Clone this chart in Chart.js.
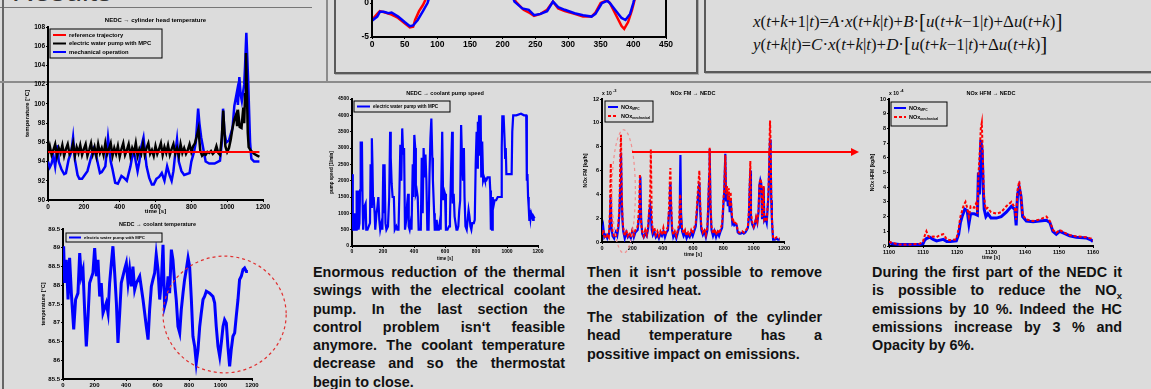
<!DOCTYPE html>
<html>
<head>
<meta charset="utf-8">
<script src="https://cdn.jsdelivr.net/npm/chart.js@4.4.1/dist/chart.umd.min.js"></script>
<style>
html, body { margin: 0; padding: 0; }
body { width: 1151px; height: 389px; overflow: hidden; background: #dcdcdc; position: relative;
       font-family: "Liberation Sans", Arial, sans-serif; }
canvas { position: absolute; }
.ln { position: absolute; background: #8c8c8c; }
.panel { position: absolute; border: 2px solid #5a5a5a; box-shadow: 1px 1px 0 #aaa; }
.txt { position: absolute; font-weight: bold; font-size: 14.4px; line-height: 18.3px; color: #111; }
.txt div { text-align: justify; text-align-last: justify; white-space: nowrap; }
.txt div.last { text-align-last: left; }
.eq { position: absolute; font-family: "Liberation Serif", "Times New Roman", serif; font-size: 16.9px; color: #111; white-space: nowrap; }
.eq .br { font-size: 21px; position: relative; top: 1px; }
</style>
</head>
<body>

<!-- рамки постера -->
<div style="position:absolute;left:12px;top:-24px;font-size:30px;line-height:30px;color:#333;">Results</div>
<div class="ln" style="left:0;top:7px;width:312px;height:1px;background:#777;"></div>
<div class="ln" style="left:2px;top:0;width:2px;height:389px;background:#666;"></div>
<div class="ln" style="left:326px;top:0;width:2px;height:82px;"></div>
<div class="ln" style="left:0;top:81px;width:1151px;height:2px;"></div>
<div class="panel" style="left:334px;top:-10px;width:360px;height:80px;"></div>
<div class="panel" style="left:704px;top:-10px;width:460px;height:79px;"></div>

<!-- уравнения -->
<div class="eq" style="left:768px;top:-12px;font-size:8px;">min</div>
<div class="eq" style="left:868px;top:-12px;font-size:8px;">max</div>
<div class="eq" style="left:948px;top:-12px;font-size:8px;">ctr</div>
<div class="eq" style="left:753px;top:8px;">
<i>x</i>(<i>t</i>+<i>k</i>+1|<i>t</i>)=<i>A</i>·<i>x</i>(<i>t</i>+<i>k</i>|<i>t</i>)+<i>B</i>·<span class="br">[</span><i>u</i>(<i>t</i>+<i>k</i>−1|<i>t</i>)+Δ<i>u</i>(<i>t</i>+<i>k</i>)<span class="br">]</span>
</div>
<div class="eq" style="left:753px;top:31px;">
<i>y</i>(<i>t</i>+<i>k</i>|<i>t</i>)=<i>C</i>·<i>x</i>(<i>t</i>+<i>k</i>|<i>t</i>)+<i>D</i>·<span class="br">[</span><i>u</i>(<i>t</i>+<i>k</i>−1|<i>t</i>)+Δ<i>u</i>(<i>t</i>+<i>k</i>)<span class="br">]</span>
</div>

<canvas id="c0"></canvas>
<canvas id="c1"></canvas>
<canvas id="c2"></canvas>
<canvas id="c3"></canvas>
<canvas id="c4"></canvas>
<canvas id="c5"></canvas>

<!-- стрелка от NOx FM к графику справа -->
<div style="position:absolute;left:632px;top:151px;width:220px;height:1.5px;background:#f00;"></div>
<div style="position:absolute;left:851px;top:148px;width:0;height:0;border-top:4px solid transparent;border-bottom:4px solid transparent;border-left:8px solid #f00;"></div>

<!-- тексты -->
<div class="txt" style="left:313px;top:263px;width:252px;">
  <div>Enormous reduction of the thermal</div>
  <div>swings with the electrical coolant</div>
  <div>pump. In the last section the</div>
  <div>control problem isn‘t feasible</div>
  <div>anymore. The coolant temperature</div>
  <div>decrease and so the thermostat</div>
  <div class="last">begin to close.</div>
</div>
<div class="txt" style="left:587px;top:263px;width:235px;">
  <div>Then it isn‘t possible to remove</div>
  <div class="last">the desired heat.</div>
</div>
<div class="txt" style="left:587px;top:308px;width:235px;">
  <div>The stabilization of the cylinder</div>
  <div>head temperature has a</div>
  <div class="last">possitive impact on emissions.</div>
</div>
<div class="txt" style="left:872px;top:263px;width:250px;">
  <div>During the first part of the NEDC it</div>
  <div>is possible to reduce the NO<sub style="font-size:9.5px;line-height:0;">x</sub></div>
  <div>emissions by 10 %. Indeed the HC</div>
  <div>emissions increase by 3 % and</div>
  <div class="last">Opacity by 6%.</div>
</div>

<script>
// ---- данные ----
// верхний график (виден только низ)
const topBlueX = [0, 8, 12, 18, 25, 30, 40, 50, 58, 63, 70, 78, 85, 95, 110, 200, 212, 218, 230, 240, 248, 258, 268, 277, 285, 295, 310, 323, 336, 342, 352, 360, 364, 372, 382, 388, 395, 400, 405, 410];
const topBlue  = [-2.6, -2.0, -1.3, -1.3, -1.5, -1.4, -2.0, -2.8, -3.4, -3.3, -2.5, -1.2, 0, 3, 6, 6, 2, 0.2, -0.8, -1.0, -1.8, -1.6, -1.2, 0.2, -0.6, -1.0, -1.5, -1.8, -2.0, -1.6, 0, 0.3, 0, -1.0, -2.2, -2.5, -1.6, 0, 2, 4];
const topRedX  = [0, 8, 12, 20, 30, 40, 50, 58, 63, 66, 72, 78, 82, 95, 110, 200, 212, 220, 232, 242, 248, 258, 268, 277, 285, 295, 310, 323, 336, 342, 350, 360, 364, 372, 382, 386, 392, 398, 402, 410];
const topRed   = [-2.5, -1.6, -1.2, -1.4, -1.7, -2.2, -3.0, -3.6, -3.5, -2.5, -1.2, -0.3, 0.5, 4, 6, 6, 2, 0.2, -1.0, -1.5, -1.9, -1.6, -1.0, 0.2, -0.8, -1.2, -1.6, -2.0, -2.0, -1.4, 0, 0.4, 0, -1.5, -3.4, -3.8, -2.8, -1.0, 0.5, 4];

// NEDC -> cylinder head temperature
const refTime = [0, 1180];
const refTemp = [95, 95];
const mpcTime = [0, 10, 20, 30, 40, 50, 60, 70, 80, 90, 100, 110, 120, 130, 140, 150, 160, 170, 180, 190, 200, 210, 220, 230, 240, 250, 260, 270, 280, 290, 300, 310, 320, 330, 340, 350, 360, 370, 380, 390, 400, 410, 420, 430, 440, 450, 460, 470, 480, 490, 500, 510, 520, 530, 540, 550, 560, 570, 580, 590, 600, 610, 620, 630, 640, 650, 660, 670, 680, 690, 700, 710, 720, 730, 740, 750, 760, 770, 780, 790, 800, 810, 820, 830, 840, 845, 850, 860, 870, 880, 890, 900, 910, 920, 930, 940, 950, 960, 970, 978, 985, 990, 1000, 1010, 1020, 1030, 1040, 1050, 1055, 1060, 1070, 1080, 1090, 1095, 1100, 1105, 1110, 1115, 1120, 1130, 1150, 1170, 1180];
const mpcTemp = [94.8, 95.6, 94.7, 95.2, 95.8, 94.6, 95.4, 94.9, 95.7, 94.6, 95.3, 95.8, 94.8, 95.1, 95.9, 94.6, 95.5, 94.9, 95.7, 94.7, 95.3, 95.8, 94.6, 95.2, 95.9, 94.8, 95.5, 94.6, 95.8, 94.9, 95.4, 94.7, 95.9, 94.8, 95.3, 95.9, 94.6, 95.4, 94.8, 95.6, 94.5, 95.3, 95.9, 94.7, 95.2, 95.8, 94.6, 95.4, 94.9, 95.9, 94.6, 95.3, 94.8, 95.8, 94.7, 95.4, 95.9, 94.8, 95.2, 94.6, 95.6, 94.8, 95.3, 95.9, 94.7, 95.5, 94.9, 95.7, 94.7, 95.3, 95.8, 94.8, 95.4, 94.6, 95.8, 94.9, 95.4, 94.8, 95.2, 95.8, 95.0, 95.6, 95.9, 96.6, 97.4, 96.2, 95.1, 94.6, 94.8, 94.7, 95.0, 94.9, 95.1, 94.8, 95.0, 95.6, 94.9, 94.7, 96.5, 99.3, 97.0, 95.6, 95.0, 95.4, 96.3, 97.5, 98.4, 98.9, 97.8, 99.4, 97.6, 97.5, 99.6, 98.0, 101, 105.3, 101.5, 97, 95.5, 95.2, 94.8, 94.6, 94.5];
const mechTime = [0, 10, 20, 30, 40, 54, 60, 75, 90, 100, 115, 130, 140, 150, 165, 175, 190, 205, 220, 240, 255, 270, 290, 300, 320, 335, 350, 360, 375, 390, 410, 425, 440, 460, 470, 480, 500, 510, 520, 533, 550, 565, 580, 590, 605, 620, 635, 650, 665, 680, 690, 700, 710, 720, 730, 745, 760, 775, 790, 800, 815, 825, 838, 845, 855, 870, 880, 900, 930, 960, 970, 977, 985, 995, 1010, 1030, 1040, 1055, 1060, 1068, 1075, 1082, 1095, 1100, 1107, 1112, 1118, 1122, 1128, 1135, 1150, 1180];
const mechTemp = [94.0, 93.4, 93.8, 94.6, 93.5, 95.7, 94.0, 93.2, 92.7, 92.8, 94.2, 95.0, 96.5, 94.2, 92.6, 92.2, 92.2, 92.6, 93.0, 94.4, 95.3, 94.5, 92.8, 92.9, 93.5, 96.5, 94.0, 93.2, 91.8, 91.7, 92.5, 92.3, 92.0, 93.5, 94.5, 95.0, 93.0, 94.0, 95.5, 96.5, 93.5, 92.3, 91.6, 91.6, 92.2, 92.4, 92.8, 92.0, 93.5, 92.5, 92.0, 93.0, 94.8, 96.3, 94.0, 93.0, 92.6, 92.7, 92.8, 94.0, 95.0, 96.0, 99.5, 98.0, 96.5, 95.0, 94.0, 93.8, 93.8, 94.1, 96.0, 99.5, 97.0, 96.0, 96.2, 97.5, 99.8, 101.3, 99.9, 102.8, 101.0, 100.3, 102.0, 104.0, 107.4, 105.0, 102.0, 99.5, 96.0, 94.3, 94.0, 94.0];

// NEDC -> coolant temperature
const coolTime = [4, 11, 21, 32, 42, 53, 68, 80, 95, 106, 116, 127, 138, 148, 159, 169, 190, 201, 212, 222, 233, 243, 254, 275, 286, 296, 307, 317, 328, 339, 349, 360, 370, 391, 402, 413, 423, 434, 444, 455, 466, 487, 508, 529, 540, 550, 561, 571, 582, 592, 603, 614, 624, 635, 645, 656, 667, 677, 688, 698, 709, 719, 730, 741, 751, 762, 772, 783, 794, 804, 815, 825, 836, 846, 857, 868, 878, 889, 899, 910, 931, 952, 963, 973, 984, 995, 1005, 1016, 1026, 1037, 1047, 1058, 1068, 1079, 1090, 1100, 1111, 1121, 1132, 1143, 1153, 1164, 1174];
const coolTemp = [89.04, 88.06, 88.68, 87.62, 88.73, 87.79, 86.82, 87.62, 87.79, 88.86, 88.24, 88.42, 87.26, 86.37, 87.17, 88.06, 88.33, 88.99, 88.24, 88.68, 87.70, 88.06, 87.26, 87.53, 87.26, 88.06, 88.59, 89.04, 88.33, 87.53, 86.46, 87.26, 88.06, 88.42, 88.59, 88.06, 88.42, 87.97, 88.50, 87.88, 88.06, 88.24, 87.62, 86.90, 86.55, 87.35, 87.97, 88.15, 88.33, 88.82, 88.42, 87.62, 88.06, 89.08, 87.44, 87.62, 88.24, 87.79, 88.95, 88.68, 88.06, 87.62, 86.90, 86.73, 87.35, 87.79, 88.15, 88.42, 88.73, 88.50, 87.62, 86.64, 86.37, 85.93, 86.28, 86.90, 87.26, 87.62, 87.70, 87.84, 87.79, 87.70, 87.53, 86.90, 86.37, 86.10, 86.46, 86.90, 87.08, 86.99, 86.37, 85.84, 86.28, 86.64, 86.73, 87.17, 87.62, 88.15, 88.24, 88.42, 88.46, 88.37, 88.37];

// NEDC -> coolant pump speed
const pumpTime = [0, 5, 8, 14, 16, 20, 28, 30, 34, 38, 42, 48, 52, 56, 60, 64, 68, 72, 80, 88, 92, 100, 108, 116, 120, 124, 128, 132, 136, 140, 146, 150, 158, 164, 170, 176, 182, 190, 196, 202, 206, 210, 216, 222, 232, 240, 246, 250, 256, 262, 270, 276, 286, 292, 300, 306, 312, 318, 324, 330, 336, 342, 350, 356, 362, 366, 372, 378, 384, 392, 396, 402, 408, 412, 418, 424, 430, 438, 444, 450, 456, 462, 468, 474, 480, 486, 494, 500, 506, 512, 518, 522, 530, 534, 540, 546, 552, 560, 566, 572, 582, 588, 594, 600, 606, 616, 626, 632, 640, 646, 650, 656, 662, 668, 674, 680, 686, 692, 698, 704, 710, 716, 722, 726, 732, 740, 746, 752, 758, 764, 770, 776, 786, 792, 798, 804, 808, 812, 816, 820, 826, 830, 834, 840, 846, 852, 858, 866, 874, 882, 888, 892, 896, 900, 904, 908, 912, 920, 930, 940, 950, 960, 964, 966, 970, 974, 978, 984, 988, 992, 996, 1000, 1020, 1030, 1034, 1038, 1040, 1060, 1090, 1110, 1124, 1128, 1132, 1136, 1140, 1144, 1148, 1152, 1156, 1162, 1168, 1172, 1178];
const pumpSpeed = [2200, 800, 500, 500, 1000, 500, 500, 1700, 800, 1700, 500, 700, 1700, 3200, 2600, 3200, 1400, 500, 1200, 1300, 500, 500, 600, 700, 2500, 1200, 3300, 2500, 1300, 1500, 1000, 500, 1000, 1200, 1500, 800, 500, 700, 500, 2500, 1000, 2500, 700, 500, 600, 1500, 3500, 2700, 1900, 1500, 1500, 500, 600, 500, 500, 1700, 3100, 2000, 3600, 2800, 3000, 500, 800, 1300, 1600, 600, 500, 700, 500, 2500, 1500, 3400, 3000, 1600, 1700, 1500, 500, 500, 500, 2700, 1000, 3000, 2100, 2800, 2000, 500, 500, 2200, 3300, 3900, 2700, 2000, 1000, 500, 500, 800, 500, 500, 700, 500, 3500, 1400, 1700, 1600, 500, 500, 600, 800, 2500, 3500, 1300, 1600, 900, 700, 500, 500, 600, 1100, 1400, 3700, 2600, 2000, 3000, 1500, 600, 500, 800, 1100, 900, 600, 500, 700, 700, 800, 2500, 3500, 2400, 3800, 3000, 4000, 2800, 4000, 2100, 3200, 2000, 2100, 2000, 2000, 2100, 2100, 2100, 1700, 500, 1400, 500, 1500, 1200, 1400, 1400, 1500, 1500, 1500, 1500, 3000, 4000, 3500, 4000, 3300, 2700, 3000, 2200, 2200, 2200, 2200, 3500, 3500, 4000, 4000, 4050, 4000, 4000, 2000, 2200, 1500, 1200, 800, 1100, 850, 1000, 900, 800, 900, 850];

// NOx FM -> NEDC  (x 10^-3)
const noxTime = [0, 8, 15, 25, 35, 45, 52, 58, 62, 70, 80, 90, 100, 108, 115, 120, 125, 130, 135, 140, 150, 160, 170, 180, 190, 200, 210, 220, 235, 245, 250, 253, 258, 265, 275, 285, 295, 305, 312, 318, 322, 328, 335, 345, 355, 365, 375, 385, 395, 405, 415, 425, 435, 442, 448, 451, 456, 462, 470, 480, 490, 500, 508, 514, 517, 521, 528, 538, 548, 558, 568, 578, 588, 598, 608, 618, 626, 633, 642, 648, 655, 665, 675, 685, 695, 702, 707, 710, 715, 722, 732, 742, 752, 762, 772, 782, 792, 800, 806, 813, 818, 824, 830, 836, 842, 848, 854, 860, 866, 872, 880, 888, 895, 905, 915, 925, 935, 945, 955, 962, 968, 974, 978, 982, 990, 1000, 1008, 1016, 1024, 1032, 1038, 1044, 1050, 1055, 1060, 1066, 1070, 1078, 1086, 1092, 1098, 1104, 1108, 1112, 1116, 1120, 1124, 1128, 1140, 1150, 1160, 1172];
const noxMpc = [0.8, 1.3, 0.4, 0.6, 0.3, 0.6, 1.5, 4.0, 1.2, 0.5, 0.3, 0.8, 0.5, 1.2, 2.5, 4.5, 7.5, 3.5, 1.8, 0.9, 0.3, 0.8, 0.4, 0.6, 0.3, 0.9, 0.4, 0.8, 1.0, 2.2, 4.0, 5.5, 2.0, 0.7, 0.4, 0.7, 0.5, 1.2, 2.5, 3.0, 2.4, 1.0, 0.6, 0.9, 0.4, 0.6, 0.3, 0.7, 0.5, 0.9, 0.4, 0.8, 1.0, 2.5, 4.0, 5.0, 2.5, 1.0, 0.4, 0.7, 0.3, 0.8, 1.2, 4.5, 7.3, 2.5, 0.9, 0.5, 0.8, 0.3, 0.6, 0.4, 0.8, 0.5, 0.9, 1.3, 2.5, 3.8, 5.0, 2.5, 1.0, 0.6, 0.9, 0.4, 1.0, 3.5, 5.5, 7.8, 3.0, 1.0, 0.5, 0.9, 0.4, 0.8, 0.5, 0.9, 1.2, 3.0, 4.2, 7.4, 3.5, 4.2, 3.0, 3.9, 2.5, 3.6, 2.4, 1.5, 1.6, 1.4, 1.5, 1.4, 0.8, 0.7, 0.7, 0.8, 0.7, 0.8, 1.0, 1.2, 2.0, 4.5, 6.0, 2.0, 1.5, 1.2, 1.5, 2.0, 1.6, 2.5, 4.8, 5.2, 4.9, 2.0, 3.0, 4.6, 1.8, 2.0, 1.6, 2.8, 4.0, 7.0, 8.6, 7.2, 3.5, 2.0, 1.0, 0.2, 0.2, 0.3, 0.2, 0.2];
const noxMech = [0.6, 1.0, 0.5, 0.3, 0.6, 0.4, 2.5, 6.6, 2.0, 0.8, 0.5, 0.4, 0.9, 1.5, 3.0, 6.5, 9.0, 4.5, 2.0, 1.2, 0.5, 1.0, 0.5, 0.8, 0.4, 1.0, 0.6, 1.0, 1.3, 3.0, 5.7, 3.5, 1.5, 0.9, 0.5, 1.0, 0.6, 1.5, 3.0, 4.2, 7.8, 2.0, 0.9, 1.2, 0.6, 0.9, 0.5, 0.9, 0.6, 1.2, 0.6, 1.0, 1.3, 3.0, 5.5, 6.2, 3.5, 1.3, 0.6, 0.9, 0.5, 1.0, 1.5, 4.0, 3.8, 2.0, 1.2, 0.7, 1.0, 0.5, 0.8, 0.6, 1.0, 0.7, 1.2, 1.6, 3.0, 4.5, 6.0, 3.0, 1.3, 0.8, 1.1, 0.6, 1.3, 4.0, 6.0, 7.9, 3.5, 1.3, 0.7, 1.1, 0.6, 1.0, 0.7, 1.1, 1.5, 3.5, 4.5, 7.3, 4.0, 4.7, 3.5, 4.5, 3.0, 4.2, 2.8, 1.7, 1.8, 1.5, 1.6, 1.5, 0.9, 0.8, 0.8, 0.9, 0.8, 0.9, 1.1, 1.3, 2.5, 5.0, 6.8, 2.5, 1.7, 1.3, 1.6, 2.1, 1.7, 2.6, 4.9, 5.3, 5.0, 2.1, 3.1, 4.7, 1.9, 2.1, 1.7, 3.0, 4.5, 8.0, 10.2, 8.0, 4.0, 2.2, 1.1, 0.3, 0.3, 0.4, 0.3, 0.3];

// NOx HFM -> NEDC  (x 10^-4)
const hfmTime = [1100, 1101, 1103, 1106, 1109, 1110, 1110.5, 1111, 1112, 1113, 1114, 1115, 1116, 1117, 1118, 1119.8, 1120.5, 1121, 1121.5, 1122.3, 1123, 1123.5, 1124, 1125, 1126, 1126.3, 1126.6, 1127, 1127.4, 1127.7, 1128, 1128.5, 1129.1, 1130, 1131.6, 1133, 1134.5, 1136, 1137, 1137.4, 1137.8, 1138.3, 1138.8, 1139.3, 1140.4, 1142.4, 1144.3, 1146.3, 1147.3, 1148.2, 1149.2, 1150.2, 1151.2, 1153.1, 1155.1, 1158, 1159.5, 1160];
const hfmMpc = [0.25, 0.15, 0.1, 0.1, 0.1, 0.15, 0.4, 0.5, 0.6, 0.45, 0.35, 0.4, 0.45, 0.3, 0.3, 0.35, 0.8, 1.6, 2.0, 2.5, 2.4, 1.5, 2.2, 2.2, 2.1, 5.0, 3.5, 7.2, 6.5, 4.0, 2.5, 2.0, 2.2, 1.9, 1.9, 2.0, 2.3, 2.7, 2.5, 1.4, 3.5, 4.0, 3.4, 2.0, 1.7, 1.65, 1.7, 1.75, 1.6, 1.0, 0.8, 1.0, 0.9, 0.7, 0.6, 0.55, 0.4, 0.3];
const hfmMechTime = [1100, 1101, 1103, 1106, 1109, 1110, 1110.5, 1111, 1111.5, 1112, 1113, 1114, 1115, 1116, 1117, 1118, 1119.8, 1120.5, 1121, 1121.5, 1122, 1122.5, 1123, 1123.5, 1124, 1125, 1125.6, 1126, 1126.3, 1126.6, 1127, 1127.3, 1127.6, 1127.9, 1128.4, 1129, 1130, 1131.6, 1133, 1134.5, 1136, 1137, 1137.4, 1137.8, 1138.3, 1138.8, 1139.3, 1140.4, 1142.4, 1144.3, 1146.3, 1147.3, 1148.2, 1149.2, 1150.2, 1151.2, 1153.1, 1155.1, 1158, 1159.5, 1160];
const hfmMech = [0.3, 0.2, 0.1, 0.1, 0.15, 0.3, 0.7, 1.0, 0.7, 0.6, 0.65, 0.6, 0.75, 0.8, 0.45, 0.4, 0.45, 1.2, 2.0, 2.4, 2.8, 3.0, 2.6, 2.0, 2.7, 2.6, 2.9, 2.2, 4.8, 6.0, 8.0, 8.4, 6.0, 3.5, 2.5, 2.6, 2.3, 2.2, 2.3, 2.7, 3.0, 2.6, 1.8, 3.8, 4.4, 3.5, 2.1, 1.8, 1.7, 1.8, 2.0, 1.7, 1.1, 0.9, 1.1, 0.95, 0.75, 0.65, 0.6, 0.5, 0.35];

// ---- оформление ----
const FONT = '"Liberation Sans", Arial, sans-serif';
const BLUE = '#0000ff', RED = '#ff0000';
Chart.defaults.font.family = FONT;
Chart.defaults.font.weight = 'bold';
Chart.defaults.color = '#000';
Chart.defaults.animation = false;
Chart.defaults.plugins.legend.display = false;
Chart.defaults.plugins.tooltip.enabled = false;
Chart.defaults.elements.point.radius = 0;
Chart.defaults.elements.line.tension = 0;

function pts(xs, ys) {
  return xs.map((x, i) => ({ x: x, y: ys[i] }));
}

// заголовки, легенды, эллипсы — по id канваса
const DECOR = {
  c0: { frame: true },
  c1: { title: 'NEDC \u2192 cylinder head temperature', titleSize: 6, titleGap: 7,
        legend: { dx: 2, dy: 2, w: 112, h: 29, first: 6, step: 8.5, sample: 13, size: 5.8, items: [
          { text: 'reference trajectory', color: RED },
          { text: 'electric water pump with MPC', color: '#000' },
          { text: 'mechanical operation', color: BLUE }] } },
  c2: { title: 'NEDC \u2192 coolant temperature', titleSize: 5.5, titleGap: 5,
        legend: { dx: 3, dy: 4, w: 96, h: 9, first: 4.5, step: 8, sample: 12, size: 4.3, items: [
          { text: 'electric water pump with MPC', color: BLUE }] },
        ellipse: { cx: 1026, cy: 87.22, rx: 391, ry: 1.556, color: '#e03030' } },
  c3: { title: 'NEDC \u2192 coolant pump speed', titleSize: 5.5, titleGap: 6,
        legend: { dx: 2, dy: 2, w: 96, h: 11, first: 5.5, step: 8, sample: 13, size: 4.6, items: [
          { text: 'electric water pump with MPC', color: BLUE }] } },
  c4: { title: 'NOx FM \u2192 NEDC', titleSize: 5.5, titleGap: 6, expo: '-3',
        legend: { dx: 3, dy: 2, w: 48, h: 21, first: 6, step: 9, sample: 10, size: 5.5, items: [
          { text: 'NOx', sub: 'MPC', color: BLUE },
          { text: 'NOx', sub: 'mechanical', color: RED, dash: [3, 2] }] },
        ellipse: { cx: 143, cy: 4.25, rx: 77, ry: 5.17, color: '#f09090' } },
  c5: { title: 'NOx HFM \u2192 NEDC', titleSize: 5.5, titleGap: 6, expo: '-4',
        legend: { dx: 2, dy: 3, w: 56, h: 24, first: 6, step: 9, sample: 12, size: 5.5, items: [
          { text: 'NOx', sub: 'MPC', color: BLUE },
          { text: 'NOx', sub: 'mechanical', color: RED, dash: [3, 2] }] } }
};

const decorPlugin = {
  id: 'decor',
  afterDraw(chart) {
    const o = DECOR[chart.canvas.id];
    if (!o) return;
    const ctx = chart.ctx, a = chart.chartArea;
    ctx.save();
    if (o.frame) {
      ctx.strokeStyle = '#000'; ctx.lineWidth = 2;
      ctx.strokeRect(a.left, a.top, a.right - a.left, a.bottom - a.top);
    }
    if (o.ellipse) {
      const e = o.ellipse, sx = chart.scales.x, sy = chart.scales.y;
      const cx = sx.getPixelForValue(e.cx), cy = sy.getPixelForValue(e.cy);
      const rx = Math.abs(sx.getPixelForValue(e.cx + e.rx) - cx);
      const ry = Math.abs(sy.getPixelForValue(e.cy + e.ry) - cy);
      ctx.setLineDash([3, 3]); ctx.strokeStyle = e.color; ctx.lineWidth = 1.2;
      ctx.beginPath(); ctx.ellipse(cx, cy, rx, ry, 0, 0, Math.PI * 2); ctx.stroke();
      ctx.setLineDash([]);
    }
    ctx.fillStyle = '#000';
    if (o.title) {
      ctx.font = 'bold ' + o.titleSize + 'px ' + FONT;
      ctx.textAlign = 'center'; ctx.textBaseline = 'middle';
      ctx.fillText(o.title, (a.left + a.right) / 2, a.top - o.titleGap);
    }
    if (o.expo) {
      ctx.font = 'bold 5px ' + FONT; ctx.textAlign = 'left'; ctx.textBaseline = 'middle';
      ctx.fillText('x 10', a.left, a.top - 5);
      ctx.font = 'bold 4px ' + FONT;
      ctx.fillText(o.expo, a.left + 11, a.top - 8);
    }
    if (o.legend) {
      const L = o.legend, x0 = a.left + L.dx, y0 = a.top + L.dy;
      ctx.fillStyle = '#dcdcdc'; ctx.fillRect(x0, y0, L.w, L.h);
      ctx.strokeStyle = '#000'; ctx.lineWidth = 1; ctx.strokeRect(x0, y0, L.w, L.h);
      L.items.forEach((it, i) => {
        const y = y0 + L.first + i * L.step;
        ctx.strokeStyle = it.color; ctx.lineWidth = 2; ctx.setLineDash(it.dash || []);
        ctx.beginPath(); ctx.moveTo(x0 + 3, y); ctx.lineTo(x0 + 3 + L.sample, y); ctx.stroke();
        ctx.setLineDash([]);
        ctx.fillStyle = '#000'; ctx.font = 'bold ' + L.size + 'px ' + FONT;
        ctx.textAlign = 'left'; ctx.textBaseline = 'middle';
        const tx = x0 + 6 + L.sample;
        ctx.fillText(it.text, tx, y);
        if (it.sub) {
          const w = ctx.measureText(it.text).width;
          ctx.font = 'bold ' + (L.size * 0.6) + 'px ' + FONT;
          ctx.fillText(it.sub, tx + w, y + L.size * 0.35);
        }
      });
    }
    ctx.restore();
  }
};

function axis(box, plot, s, horizontal) {
  return {
    type: 'linear', min: s.min, max: s.max,
    afterFit: horizontal
      ? (sc) => { sc.height = box.y + box.h - plot.b; }
      : (sc) => { sc.width = plot.l - box.x; },
    ticks: { stepSize: s.step, autoSkip: false, maxRotation: 0, padding: 1,
             font: { size: s.font }, callback: (v) => String(v) },
    grid: { drawOnChartArea: false, tickLength: 2, color: '#000' },
    border: { color: '#000', width: 2 },
    title: { display: !!s.title, text: s.title || '', font: { size: s.font - 0.5 }, padding: s.titlePad || 0 }
  };
}

function makeChart(id, box, plot, sx, sy, datasets) {
  const cv = document.getElementById(id);
  cv.width = box.w; cv.height = box.h;
  cv.style.left = box.x + 'px'; cv.style.top = box.y + 'px';
  return new Chart(cv, {
    type: 'line',
    data: { datasets: datasets },
    options: {
      responsive: false,
      layout: { padding: { top: plot.t - box.y, right: box.x + box.w - plot.r, left: 0, bottom: 0 } },
      scales: { x: axis(box, plot, sx, true), y: axis(box, plot, sy, false) }
    },
    plugins: [decorPlugin]
  });
}

function line(data, color, width, dash) {
  return { data: data, borderColor: color, borderWidth: width, borderDash: dash || [], fill: false };
}

// верхний (обрезанный) график
makeChart('c0', { x: 340, y: -80, w: 350, h: 130 }, { l: 372, r: 666, t: -65, b: 37 },
  { min: 0, max: 450, step: 50, font: 8.5 },
  { min: -5, max: 10, step: 5, font: 8.5 },
  [line(pts(topBlueX, topBlue), BLUE, 2.5), line(pts(topRedX, topRed), RED, 2.5)]);

makeChart('c1', { x: 0, y: 12, w: 280, h: 207 }, { l: 48, r: 263, t: 27, b: 200 },
  { min: 0, max: 1200, step: 200, font: 6.5, title: 'time [s]', titlePad: 4 },
  { min: 90, max: 108, step: 2, font: 6.5, title: 'temperature [\u00b0C]', titlePad: 24 },
  [line(pts(refTime, refTemp), RED, 2), line(pts(mpcTime, mpcTemp), '#000', 2.5),
   line(pts(mechTime, mechTemp), BLUE, 2.5)]);

makeChart('c2', { x: 8, y: 216, w: 290, h: 173 }, { l: 63, r: 252, t: 229, b: 379 },
  { min: 0, max: 1200, step: 200, font: 6 },
  { min: 85.5, max: 89.5, step: 0.5, font: 6, title: 'temperature [\u00b0C]', titlePad: 32 },
  [line(pts(coolTime, coolTemp), BLUE, 3)]);

makeChart('c3', { x: 318, y: 84, w: 235, h: 178 }, { l: 352, r: 538, t: 99, b: 246 },
  { min: 0, max: 1200, step: 200, font: 5, title: 'time [s]', titlePad: 1 },
  { min: 0, max: 4500, step: 500, font: 5, title: 'pump speed [1/min]', titlePad: 11 },
  [line(pts(pumpTime, pumpSpeed), BLUE, 2.2)]);

makeChart('c4', { x: 582, y: 84, w: 218, h: 178 }, { l: 602, r: 784, t: 99, b: 242 },
  { min: 0, max: 1200, step: 200, font: 5.5, title: 'time [s]', titlePad: 4 },
  { min: 0, max: 12, step: 2, font: 5.5, title: 'NOx FM [kg/h]', titlePad: 1 },
  [line(pts(noxTime, noxMech), RED, 2, [3, 2]), line(pts(noxTime, noxMpc), BLUE, 2.2)]);

makeChart('c5', { x: 866, y: 84, w: 245, h: 178 }, { l: 889, r: 1093, t: 99, b: 246 },
  { min: 1100, max: 1160, step: 10, font: 5.5, title: 'time [s]', titlePad: 1 },
  { min: 0, max: 10, step: 1, font: 5.5, title: 'NOx HFM [kg/h]', titlePad: 4 },
  [line(pts(hfmMechTime, hfmMech), RED, 2, [3, 2]), line(pts(hfmTime, hfmMpc), BLUE, 3)]);
</script>
</body>
</html>
